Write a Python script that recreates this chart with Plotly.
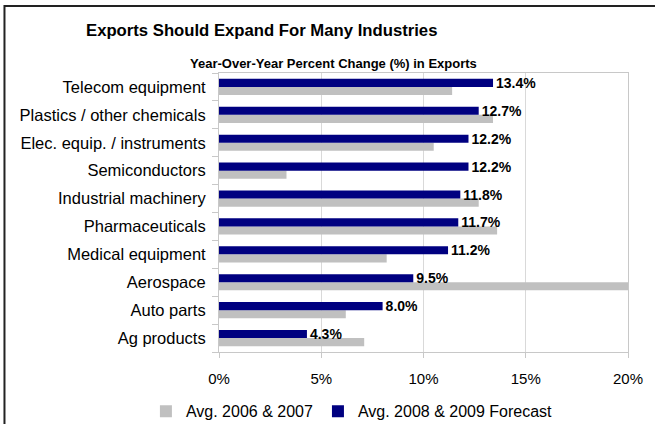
import plotly.graph_objects as go

# Bottom-to-top order of categories
categories = ["Ag products", "Auto parts", "Aerospace", "Medical equipment",
              "Pharmaceuticals", "Industrial machinery", "Semiconductors",
              "Elec. equip. / instruments", "Plastics / other chemicals",
              "Telecom equipment"]
avg_2006_2007 = [7.1, 6.2, 20.0, 8.2, 13.6, 12.7, 3.3, 10.5, 13.4, 11.4]
avg_2008_2009 = [4.3, 8.0, 9.5, 11.2, 11.7, 11.8, 12.2, 12.2, 12.7, 13.4]
x_ticks = [0, 5, 10, 15, 20]
x_tick_labels = ["0%", "5%", "10%", "15%", "20%"]

FONT = "Liberation Sans, Arial, sans-serif"

fig = go.Figure()
fig.add_trace(go.Bar(
    y=categories, x=avg_2006_2007, orientation="h",
    name="Avg. 2006 & 2007", marker=dict(color="#c0c0c0", line=dict(width=0)),
))
fig.add_trace(go.Bar(
    y=categories, x=avg_2008_2009, orientation="h",
    name="Avg. 2008 & 2009 Forecast", marker=dict(color="#000080", line=dict(width=0)),
    text=[f"{v:.1f}%" for v in avg_2008_2009], textposition="outside",
    textfont=dict(family=FONT, size=14, color="#000000", weight="bold"),
    constraintext="none", cliponaxis=False,
))

fig.update_layout(
    width=655, height=424,
    margin=dict(l=219, r=27, t=73, b=72, autoexpand=False),
    paper_bgcolor="white", plot_bgcolor="white",
    barmode="group", bargap=0.42, bargroupgap=0,
    font=dict(family=FONT, size=16, color="#000000"),
    showlegend=True,
    legend=dict(orientation="h", x=0.325, xanchor="center",
                yref="container", y=0.03, yanchor="middle",
                font=dict(family=FONT, size=16, color="#000000"),
                traceorder="normal", itemwidth=30, tracegroupgap=0),
    xaxis=dict(range=[0, 20], tickvals=x_ticks, ticktext=x_tick_labels,
               showgrid=True, gridcolor="#d9d9d9", gridwidth=1,
               showline=True, linecolor="#c8c8c8", linewidth=1, mirror=True,
               ticks="outside", ticklen=5, tickcolor="#c8c8c8",
               ticklabelstandoff=8, zeroline=False, automargin=False,
               tickfont=dict(family=FONT, size=15, color="#000000")),
    yaxis=dict(type="category", categoryorder="array", categoryarray=categories,
               showline=True, linecolor="#c8c8c8", linewidth=1, mirror=True,
               ticks="outside", ticklen=6, tickcolor="#c8c8c8", tickson="boundaries",
               ticklabelstandoff=9, showgrid=False, automargin=False,
               tickfont=dict(family=FONT, size=16.5, color="#000000")),
    annotations=[
        dict(text="<b>Exports Should Expand For Many Industries</b>",
             xref="paper", yref="paper", x=0.105, y=1.153, xanchor="center", yanchor="middle",
             showarrow=False, font=dict(family=FONT, size=16.7, color="#000000")),
        dict(text="<b>Year-Over-Year Percent Change (%) in Exports</b>",
             xref="paper", yref="paper", x=0.279, y=1.033, xanchor="center", yanchor="middle",
             showarrow=False, font=dict(family=FONT, size=13, color="#000000")),
    ],
    shapes=[
        dict(type="rect", xref="paper", yref="paper", x0=-0.5245, x1=2.0, y0=-1.0, y1=1.240,
             line=dict(color="#222222", width=2), fillcolor="rgba(0,0,0,0)", layer="above"),
    ],
)

fig.write_html("out.html")
